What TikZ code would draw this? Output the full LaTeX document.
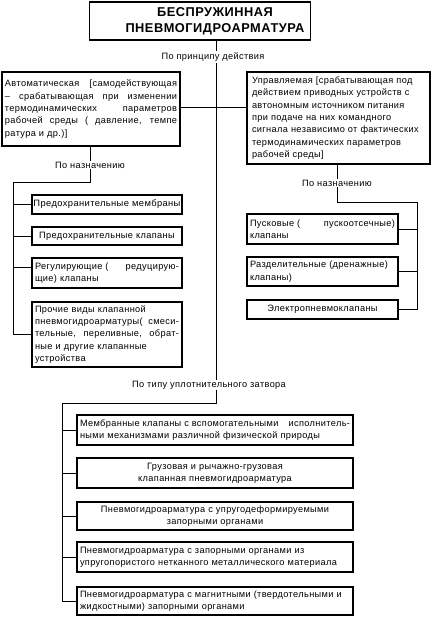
\documentclass[tikz,border=0pt]{standalone}
\usepackage{fontspec}
\usepackage{graphicx}
\setmainfont{Liberation Sans}[LetterSpace=4]
\newcommand\bodyfont{\fontsize{9.2}{12.3}\selectfont}
\newcommand\titlefont{\fontsize{12.8}{16}\selectfont\bfseries}
\newcommand\jl[1]{{\spaceskip=0pt\xspaceskip=0pt\makebox[\hsize][s]{#1}}}
\newcommand\fitw[1]{\resizebox{\hsize}{\height}{#1}}
\newcommand\tline[1]{\makebox[\hsize]{\hspace*{30pt}#1}}
\begin{document}
\begin{tikzpicture}[x=1pt,y=-1pt]
\tikzset{
  box/.style={draw, line width=1.1pt, inner xsep=3pt, inner ysep=1pt, font=\bodyfont, align=left},
  cbox/.style={box, align=center},
  lab/.style={font=\bodyfont, inner sep=1pt},
  conn/.style={line width=0.8pt}
}
\useasboundingbox (0,0) rectangle (434,622);
% title
\node[cbox, font=\titlefont, text width=215pt, minimum height=38pt] (title) at (200,21) {\tline{БЕСПРУЖИННАЯ}\\\tline{ПНЕВМОГИДРОАРМАТУРА}};
\node[lab] (p1) at (213,57) {По принципу действия};
% level 1
\node[box, text width=172pt, minimum height=74pt] (auto) at (91,109)
  {\jl{Автоматическая [самодействующая}\\\jl{– срабатывающая при изменении}\\\jl{термодинамических параметров}\\\jl{рабочей среды ( давление, темпе}\\ратура и др.)]};
\node[box, inner xsep=5pt, text width=173pt, minimum height=92pt] (ctrl) at (338.5,118)
  {Управляемая [срабатывающая под\\действием приводных устройств с\\автономным источником питания\\при подаче на них командного\\сигнала независимо от фактических\\термодинамических параметров\\рабочей среды]};
\coordinate (j) at (216,107);
\node[lab] (p3) at (209,385) {По типу уплотнительного затвора};
\draw[conn] (title.south -| j) -- (p1.north -| j);
\draw[conn] (p1.south -| j) -- (p3.north -| j);
\draw[conn] (auto.east |- j) -- (ctrl.west |- j);
% left group
\node[lab] (p2) at (90,165) {По назначению};
\node[box, inner xsep=1.5pt, text width=147pt, minimum height=19pt] (lb1) at (107,204.5) {\fitw{Предохранительные мембраны}};
\node[cbox, text width=144pt, minimum height=18pt] (lb2) at (107,236) {Предохранительные клапаны};
\node[box, text width=144pt, minimum height=30pt] (lb3) at (107,273) {\jl{Регулирующие (\hfill редуцирую-}\\щие) клапаны};
\node[box, text width=144pt, minimum height=65pt] (lb4) at (107,334.5) {Прочие виды клапанной\\\jl{пневмогидроарматуры( смеси-}\\\jl{тельные, переливные, обрат-}\\ные и другие клапанные\\устройства};
\coordinate (lc) at (13,182);
\draw[conn] (auto.south -| p2) -- (p2.north);
\draw[conn] (p2.south) -- (p2.south |- lc) -- (lc) -- (lc |- lb4.west);
\draw[conn] (lc |- lb1.west) -- (lb1.west);
\draw[conn] (lc |- lb2.west) -- (lb2.west);
\draw[conn] ([yshift=6pt]lb3.west -| lc) -- ([yshift=6pt]lb3.west);
\draw[conn] (lc |- lb4.west) -- (lb4.west);
% right group
\node[lab] (p4) at (337,183) {По назначению};
\node[box, text width=145pt, minimum height=30pt] (rb1) at (322.5,229) {\jl{Пусковые (\hfill пускоотсечные)}\\клапаны};
\node[box, text width=145pt, minimum height=29pt] (rb2) at (322.5,271.5) {Разделительные (дренажные)\\клапаны)};
\node[cbox, text width=145pt, minimum height=19pt] (rb3) at (322.5,309.5) {Электропневмоклапаны};
\coordinate (rc) at (417,202);
\draw[conn] (ctrl.south -| p4) -- (p4.north);
\draw[conn] (p4.south) -- (p4.south |- rc) -- (rc) -- (rc |- rb3.east);
\draw[conn] (rc |- rb1.east) -- (rb1.east);
\draw[conn] (rc |- rb2.east) -- (rb2.east);
\draw[conn] (rc |- rb3.east) -- (rb3.east);
% bottom group
\node[box, text width=270pt, minimum height=30pt] (bb1) at (215,430) {\jl{Мембранные клапаны с вспомогательными\hfill исполнитель-}\\ными механизмами различной физической природы};
\node[cbox, text width=270pt, minimum height=30pt] (bb2) at (215,473) {Грузовая и рычажно-грузовая\\клапанная пневмогидроарматура};
\node[cbox, text width=270pt, minimum height=28pt] (bb3) at (215,516) {Пневмогидроарматура с упругодеформируемыми\\запорными органами};
\node[box, text width=270pt, minimum height=30pt] (bb4) at (215,557) {Пневмогидроарматура с запорными органами из\\упругопористого нетканного металлического материала};
\node[box, text width=270pt, minimum height=28pt] (bb5) at (215,601) {Пневмогидроарматура с магнитными (твердотельными и\\жидкостными) запорными органами};
\coordinate (bc) at (62,403);
\draw[conn] (p3.south -| j) -- (bc -| j) -- (bc) -- (bc |- bb5.west);
\foreach \b in {bb1,bb2,bb3,bb4,bb5} \draw[conn] (bc |- \b.west) -- (\b.west);
\end{tikzpicture}
\end{document}
